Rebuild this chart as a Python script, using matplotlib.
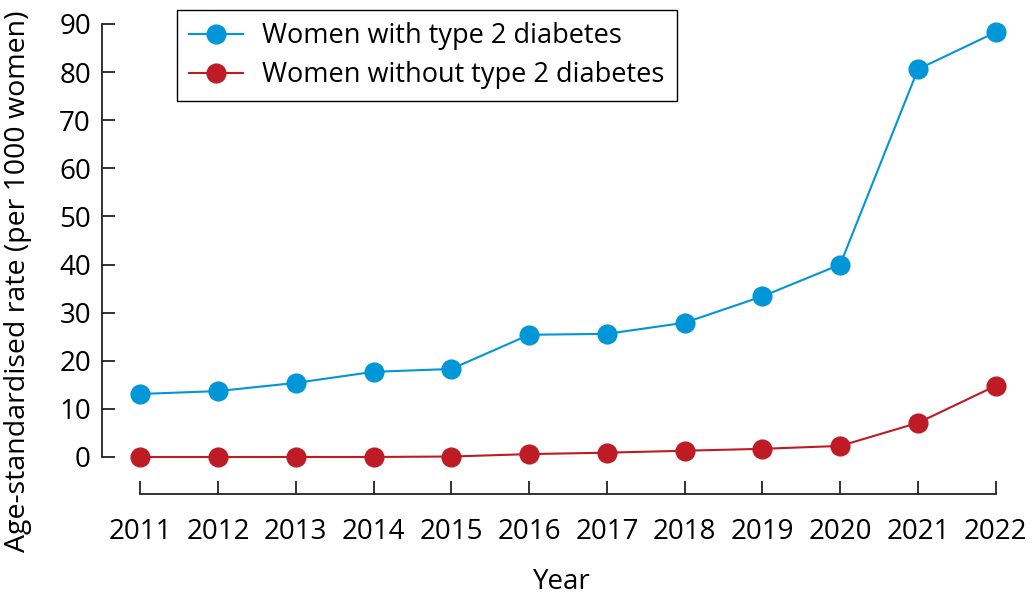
import matplotlib
matplotlib.use("Agg")
import matplotlib.pyplot as plt

years = [2011, 2012, 2013, 2014, 2015, 2016, 2017, 2018, 2019, 2020, 2021, 2022]
with_t2d = [13.1, 13.7, 15.4, 17.7, 18.3, 25.4, 25.6, 27.9, 33.4, 40.0, 80.6, 88.3]
without_t2d = [0.0, 0.0, 0.0, 0.0, 0.1, 0.6, 0.9, 1.3, 1.7, 2.3, 7.1, 14.8]
y_ticks = [0, 10, 20, 30, 40, 50, 60, 70, 80, 90]

BLUE = "#0096d8"
RED = "#be1b24"

plt.rcParams["font.family"] = ["Open Sans", "DejaVu Sans"]

fig = plt.figure(figsize=(10.31, 5.99), dpi=100)
ax = fig.add_axes([0.099, 0.1753, 0.891, 0.7913])

ax.plot(years, with_t2d, color=BLUE, lw=1.5, marker="o", ms=13.5,
        label="Women with type 2 diabetes", clip_on=False, zorder=3)
ax.plot(years, without_t2d, color=RED, lw=1.5, marker="o", ms=13.5,
        label="Women without type 2 diabetes", clip_on=False, zorder=3)

ax.set_xlim(2010.51, 2022.32)
ax.set_ylim(-7.69, 90.83)
ax.set_xticks(years)
ax.set_yticks(y_ticks)

for s in ["top", "right"]:
    ax.spines[s].set_visible(False)
ax.spines["left"].set_bounds(0, 90)
ax.spines["bottom"].set_bounds(2011, 2022)
for s in ["left", "bottom"]:
    ax.spines[s].set_linewidth(1.3)
    ax.spines[s].set_color("#222222")

ax.tick_params(axis="both", direction="in", length=9.5, width=1.3,
               color="#222222", labelsize=20)
ax.tick_params(axis="x", pad=17)
ax.tick_params(axis="y", pad=8)

ax.set_xlabel("Year", fontsize=20, labelpad=16)
# y label sits a little below the axes centre in the reference
fig.text(0.017, 0.531, "Age-standardised rate (per 1000 women)", fontsize=20.5,
         rotation=90, ha="center", va="center")

leg = ax.legend(loc="upper left", bbox_to_anchor=(0.1717, 0.983),
                bbox_transform=fig.transFigure, fontsize=19.5, frameon=True,
                fancybox=False, edgecolor="black", framealpha=1,
                handlelength=2.0, handletextpad=0.7, borderpad=0.45,
                labelspacing=0.4, borderaxespad=0)
leg.get_frame().set_linewidth(1.0)

fig.savefig("out.png", dpi=100)
